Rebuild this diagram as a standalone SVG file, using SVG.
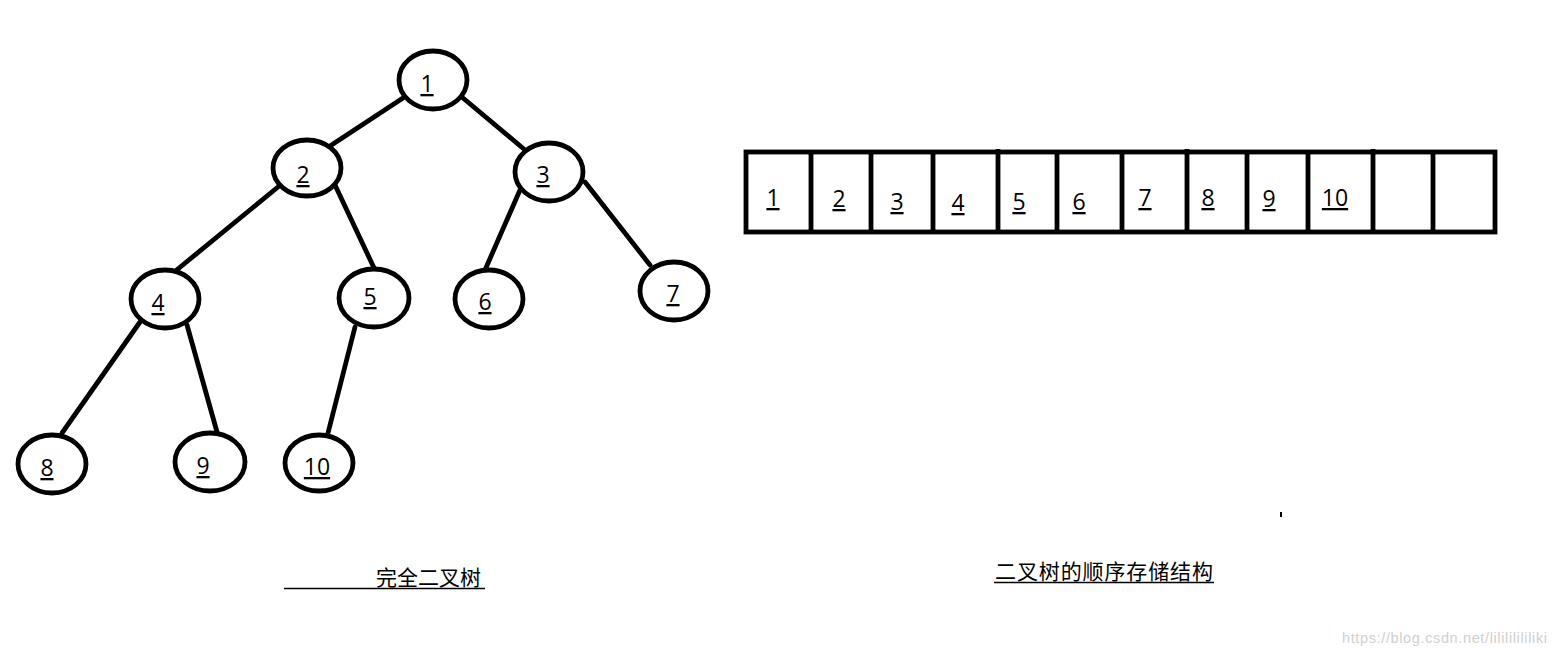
<svg xmlns="http://www.w3.org/2000/svg" width="1555" height="656" viewBox="0 0 1555 656">
<style>
.n{fill:#fff;stroke:#000;stroke-width:4.8}
.e{stroke:#000;stroke-width:4.8;stroke-linecap:round}
.t{font-family:"Open Sans","Noto Sans",sans-serif;font-size:23px;fill:#000;text-anchor:middle;text-decoration:underline}
.c{font-family:"Noto Sans CJK SC",sans-serif;font-size:21px;fill:#000}
.a{stroke:#000;stroke-width:4.8;fill:none}
</style>
<rect width="1555" height="656" fill="#fff"/>
<g id="edges">
<line class="e" x1="403" y1="98" x2="330" y2="146"/>
<line class="e" x1="463" y1="98" x2="525" y2="150"/>
<line class="e" x1="278" y1="187" x2="173" y2="273"/>
<line class="e" x1="335" y1="185" x2="375" y2="270"/>
<line class="e" x1="520" y1="190" x2="485" y2="270"/>
<line class="e" x1="585" y1="182" x2="650" y2="265"/>
<line class="e" x1="140" y1="322" x2="62" y2="433"/>
<line class="e" x1="187" y1="325" x2="217" y2="432"/>
<line class="e" x1="355" y1="327" x2="328" y2="433"/>
</g>
<g id="n1"><ellipse class="n" cx="433" cy="80" rx="34" ry="29"/><text class="t" x="427" y="92">1</text></g>
<g id="n2"><ellipse class="n" cx="307" cy="168" rx="34" ry="28"/><text class="t" x="303" y="183">2</text></g>
<g id="n3"><ellipse class="n" cx="549" cy="172" rx="34" ry="29"/><text class="t" x="543" y="183">3</text></g>
<g id="n4"><ellipse class="n" cx="165" cy="299" rx="34" ry="29"/><text class="t" x="158" y="311">4</text></g>
<g id="n5"><ellipse class="n" cx="374" cy="298" rx="35" ry="29"/><text class="t" x="370" y="305">5</text></g>
<g id="n6"><ellipse class="n" cx="489" cy="299" rx="34" ry="29"/><text class="t" x="485" y="310">6</text></g>
<g id="n7"><ellipse class="n" cx="674" cy="291" rx="34" ry="29"/><text class="t" x="673" y="302">7</text></g>
<g id="n8"><ellipse class="n" cx="52" cy="464" rx="34" ry="29"/><text class="t" x="47" y="476">8</text></g>
<g id="n9"><ellipse class="n" cx="210" cy="462" rx="35" ry="29"/><text class="t" x="203" y="474">9</text></g>
<g id="n10"><ellipse class="n" cx="319" cy="463" rx="34" ry="28"/><text class="t" x="317" y="475">10</text></g>
<g id="array">
<rect class="a" x="746" y="152" width="749" height="80"/>
<line class="a" x1="811" y1="150" x2="811" y2="232"/>
<line class="a" x1="871" y1="152" x2="871" y2="232"/>
<line class="a" x1="933" y1="152" x2="933" y2="232"/>
<line class="a" x1="998" y1="149" x2="998" y2="232"/>
<line class="a" x1="1057" y1="152" x2="1057" y2="232"/>
<line class="a" x1="1122" y1="152" x2="1122" y2="232"/>
<line class="a" x1="1187" y1="149" x2="1187" y2="232"/>
<line class="a" x1="1247" y1="152" x2="1247" y2="232"/>
<line class="a" x1="1308" y1="152" x2="1308" y2="232"/>
<line class="a" x1="1373" y1="149" x2="1373" y2="232"/>
<line class="a" x1="1433" y1="152" x2="1433" y2="232"/>
<text class="t" x="773" y="206">1</text>
<text class="t" x="839" y="207">2</text>
<text class="t" x="897" y="210">3</text>
<text class="t" x="958" y="211">4</text>
<text class="t" x="1019" y="210">5</text>
<text class="t" x="1079" y="210">6</text>
<text class="t" x="1145" y="206">7</text>
<text class="t" x="1208" y="206">8</text>
<text class="t" x="1269" y="207">9</text>
<text class="t" x="1335" y="206">10</text>
</g>
<g id="captions">
<line x1="284" y1="588.5" x2="485" y2="588.5" stroke="#000" stroke-width="1.3"/>
<text class="c" x="376" y="585">完全二叉树</text>
<line x1="994" y1="582.5" x2="1214" y2="582.5" stroke="#000" stroke-width="1.3"/>
<text class="c" x="995" y="579" textLength="218">二叉树的顺序存储结构</text>
<rect x="1280" y="512" width="2" height="5" fill="#000"/>
<text x="1342" y="643" font-family="Liberation Sans, Arial, sans-serif" font-size="14.5" fill="#d0d0d0" textLength="205">https://blog.csdn.net/lilililililiki</text>
</g>
</svg>
